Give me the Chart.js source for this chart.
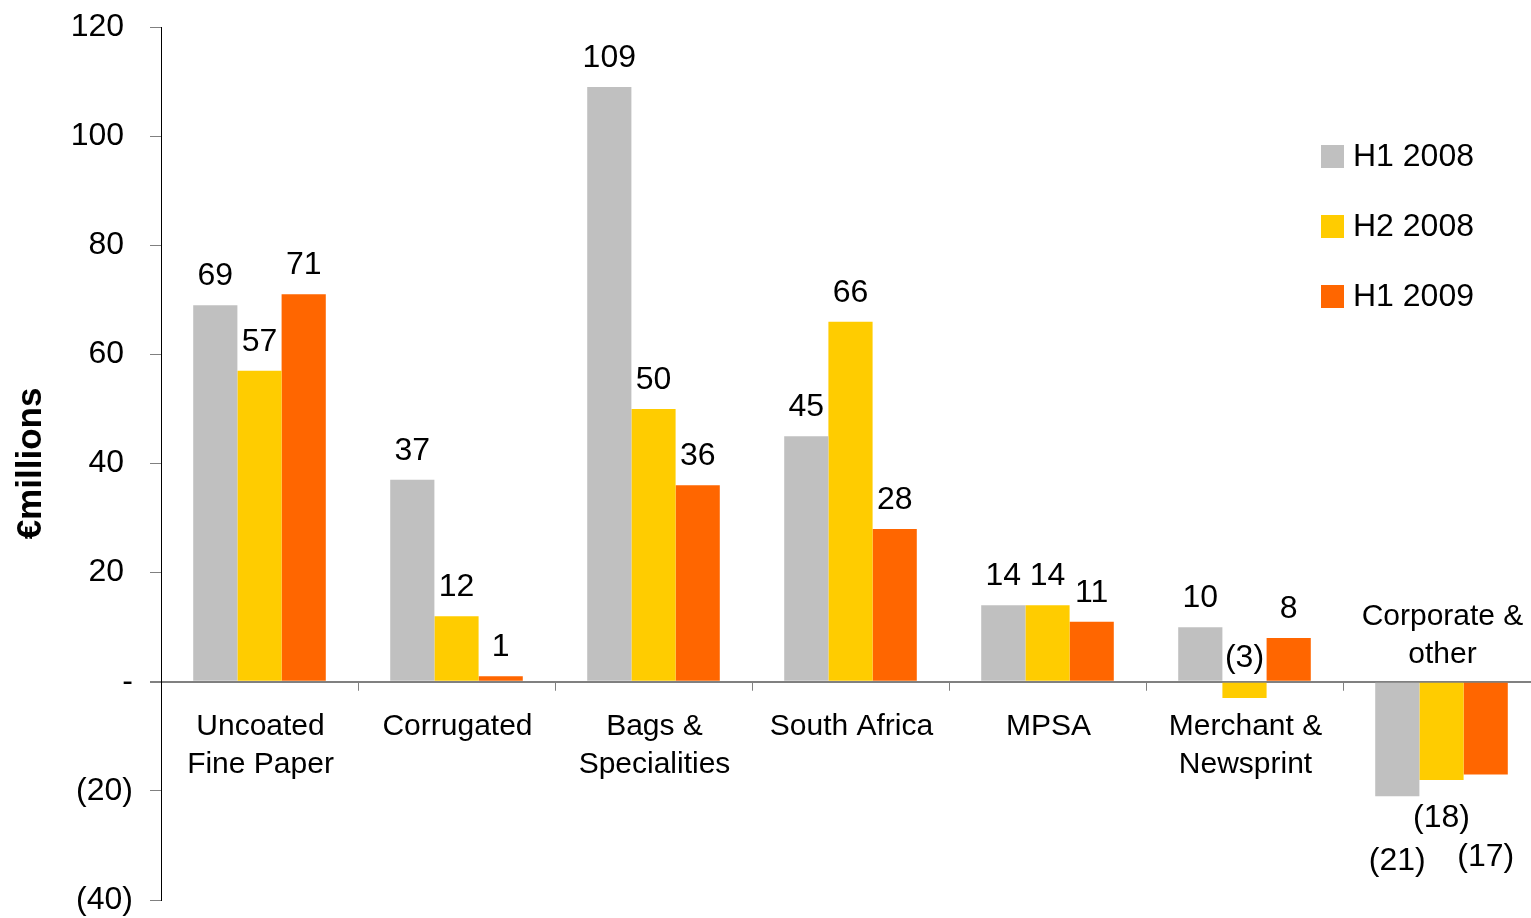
<!DOCTYPE html>
<html>
<head>
<meta charset="utf-8">
<script src="https://cdn.jsdelivr.net/npm/chart.js@4.4.1/dist/chart.umd.min.js"></script>
<style>
  html, body { margin: 0; padding: 0; background: #fff; overflow: hidden; }
  /* plot runs a little past the right edge of the window, as in the original */
  #wrap { width: 1540px; height: 918px; }
</style>
</head>
<body>
<div id="wrap"><canvas id="chart"></canvas></div>
<script>
// data
const categories = [["Uncoated", "Fine Paper"], ["Corrugated"], ["Bags &", "Specialities"], ["South Africa"], ["MPSA"], ["Merchant &", "Newsprint"], ["Corporate &", "other"]];
const seriesNames = ["H1 2008", "H2 2008", "H1 2009"];
const h1_2008 = [69, 37, 109, 45, 14, 10, -21];
const h2_2008 = [57, 12, 50, 66, 14, -3, -18];
const h1_2009 = [71, 1, 36, 28, 11, 8, -17];
const yTicks = [-40, -20, 0, 20, 40, 60, 80, 100, 120];

const colors = ["#C0C0C0", "#FFCC00", "#FF6600"];
const FONT = "'Liberation Sans', Arial, Helvetica, sans-serif";

function fmt(v) {
    if (v === 0) return "-";
    return v < 0 ? "(" + Math.abs(v) + ")" : String(v);
}

// value labels above / below the bars
const valueLabels = {
    id: "valueLabels",
    afterDatasetsDraw(chart) {
        const ctx = chart.ctx;
        const zero = chart.scales.y.getPixelForValue(0);
        // stagger for crowded negative labels (dataset-index)
        const extraDrop = {"0-6": 27, "2-6": 45};
        ctx.save();
        ctx.font = "32px " + FONT;
        ctx.fillStyle = "#000";
        ctx.textAlign = "center";
        chart.data.datasets.forEach((ds, di) => {
            chart.getDatasetMeta(di).data.forEach((bar, i) => {
                const v = ds.data[i];
                if (v >= 0) {
                    ctx.textBaseline = "alphabetic";
                    ctx.fillText(fmt(v), bar.x, bar.y - 20);
                } else if (v > -5) {
                    ctx.textBaseline = "alphabetic";
                    ctx.fillText(fmt(v), bar.x, zero - 15);
                } else {
                    ctx.textBaseline = "middle";
                    ctx.fillText(fmt(v), bar.x, bar.y + 38 + (extraDrop[di + "-" + i] || 0));
                }
            });
        });
        ctx.restore();
    }
};

// category labels next to the zero line, plus small separator ticks
const categoryLabels = {
    id: "categoryLabels",
    afterDatasetsDraw(chart) {
        const ctx = chart.ctx;
        const x = chart.scales.x;
        const y = chart.scales.y;
        const zero = y.getPixelForValue(0);
        const area = chart.chartArea;
        const step = (area.right - area.left) / categories.length;
        ctx.save();
        ctx.strokeStyle = "#808080";
        ctx.lineWidth = 1;
        for (let i = 1; i < categories.length; i++) {
            const tx = Math.round(area.left + i * step) + 0.5;
            ctx.beginPath();
            ctx.moveTo(tx, zero);
            ctx.lineTo(tx, zero + 9);
            ctx.stroke();
        }
        ctx.font = "30px " + FONT;
        ctx.fillStyle = "#000";
        ctx.textAlign = "center";
        ctx.textBaseline = "middle";
        categories.forEach((lines, i) => {
            const cx = x.getPixelForValue(i) + 1;
            const vals = chart.data.datasets.map(d => d.data[i]);
            const below = Math.min(...vals) > -5;
            const y0 = below ? zero + 45 : zero - 65;
            lines.forEach((t, k) => ctx.fillText(t, cx, y0 + k * 38));
        });
        ctx.restore();
    }
};

// legend on the right, inside the plot
const sideLegend = {
    id: "sideLegend",
    afterDraw(chart) {
        const ctx = chart.ctx;
        ctx.save();
        ctx.font = "32px " + FONT;
        ctx.textAlign = "left";
        ctx.textBaseline = "middle";
        chart.data.datasets.forEach((ds, i) => {
            const cy = 156 + i * 70;
            ctx.fillStyle = ds.backgroundColor;
            ctx.fillRect(1321, cy - 11, 23, 23);
            ctx.fillStyle = "#000";
            ctx.fillText(ds.label, 1353, cy + 1);
        });
        ctx.restore();
    }
};

const seriesData = [h1_2008, h2_2008, h1_2009];

new Chart(document.getElementById("chart").getContext("2d"), {
    type: "bar",
    data: {
        labels: categories.map(c => c.join(" ")),
        datasets: seriesNames.map((name, i) => ({
            label: name,
            data: seriesData[i],
            backgroundColor: colors[i],
            borderWidth: 0,
            barPercentage: 1,
            categoryPercentage: 0.673
        }))
    },
    options: {
        responsive: true,
        maintainAspectRatio: false,
        animation: false,
        layout: {padding: {top: 27, bottom: 18, left: 0, right: 0}},
        plugins: {
            legend: {display: false},
            tooltip: {enabled: false}
        },
        scales: {
            x: {display: false},
            y: {
                min: -40,
                max: 120,
                afterBuildTicks: s => { s.ticks = yTicks.map(v => ({value: v})); },
                afterFit: s => { s.width = 161; s.paddingTop = 0; s.paddingBottom = 0; },
                border: {color: "#000", width: 1},
                grid: {
                    drawOnChartArea: true,
                    color: c => (c.tick && c.tick.value === 0) ? "#808080" : "rgba(0,0,0,0)",
                    lineWidth: c => (c.tick && c.tick.value === 0) ? 2 : 1,
                    tickColor: "#808080",
                    tickLength: 11
                },
                ticks: {
                    color: "#000",
                    padding: 17,
                    font: {family: FONT, size: 32, lineHeight: 1},
                    callback: v => v > 0 ? fmt(v) + " " : fmt(v)
                },
                title: {
                    display: true,
                    text: "€millions",
                    color: "#000",
                    font: {family: FONT, size: 35, weight: "bold"},
                    padding: {top: 10, bottom: 0}
                }
            }
        }
    },
    plugins: [valueLabels, categoryLabels, sideLegend]
});
</script>
</body>
</html>
